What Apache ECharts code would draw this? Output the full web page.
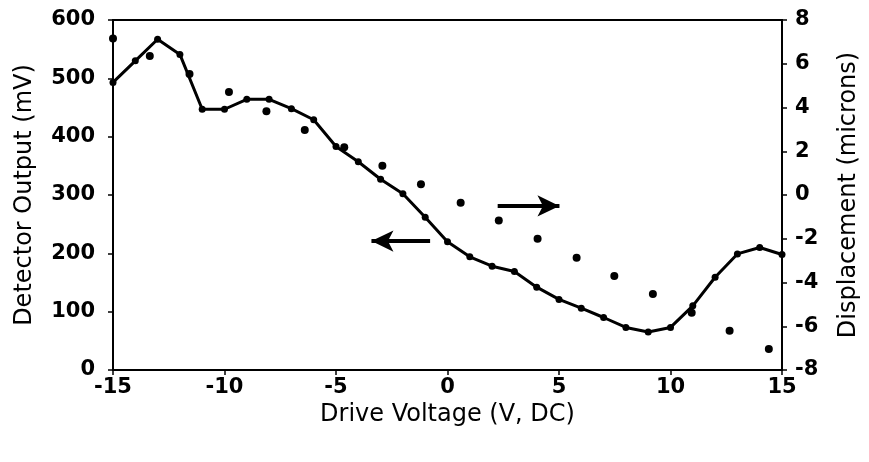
<!DOCTYPE html>
<html>
<head>
<meta charset="utf-8">
<script src="https://cdn.jsdelivr.net/npm/echarts@6/dist/echarts.min.js"></script>
<style>
html,body{margin:0;padding:0;background:#fff;}
#chart{width:869px;height:462px;}
</style>
</head>
<body>
<div id="chart"></div>
<script>
// Detector output (left axis), sampled every 1 V
var voltsLine = [-15,-14,-13,-12,-11,-10,-9,-8,-7,-6,-5,-4,-3,-2,-1,0,1,2,3,4,5,6,7,8,9,10,11,12,13,14,15];
var detectorOutput = [493,530,567,541,447,447,464,464,448,429,383,357,327,302,262,220,194,178,169,142,121,106,90,73,65,73,110,159,199,210,198];

// Displacement (right axis)
var voltsDisp = [-15,-13.35,-11.57,-9.8,-8.12,-6.4,-4.63,-2.92,-1.19,0.59,2.3,4.04,5.79,7.48,9.21,10.95,12.65,14.41];
var displacement = [7.16,6.35,5.53,4.71,3.83,2.97,2.18,1.34,0.49,-0.35,-1.17,-2.0,-2.87,-3.70,-4.53,-5.38,-6.20,-7.04];

// Annotation arrows (data coordinates): [x tail, x tip, y]
var arrowLeft = [-0.78, -3.41, 221];     // on detector axis
var arrowRight = [2.25, 5.02, -0.5];     // on displacement axis

var xTitle = 'Drive Voltage (V, DC)';
var yLeftTitle = 'Detector Output (mV)';
var yRightTitle = 'Displacement (microns)';

var lineData = voltsLine.map(function(v,i){return [v, detectorOutput[i]];});
var dispData = voltsDisp.map(function(v,i){return [v, displacement[i]];});

var FONT = 'DejaVu Sans';
var tickLabel = {color:'#000', fontFamily:FONT, fontSize:21, fontWeight:'bold'};
var nameStyle = {color:'#000', fontFamily:FONT, fontSize:24};
var axisLine = {show:true, onZero:false, lineStyle:{color:'#000', width:2}};
var axisTick = {show:true, inside:false, length:5, lineStyle:{color:'#000', width:1.5}};

var chart = echarts.init(document.getElementById('chart'), null, {renderer:'canvas'});
chart.setOption({
  backgroundColor:'#fff',
  animation:false,
  grid:{left:113, right:83, top:20, bottom:92, show:true, borderColor:'#000', borderWidth:2, backgroundColor:'transparent'},
  xAxis:{
    type:'value', min:-15, max:15, interval:5,
    axisLine:axisLine, axisTick:axisTick,
    axisLabel:Object.assign({margin:7}, tickLabel),
    splitLine:{show:false},
    name:xTitle, nameLocation:'middle', nameGap:32, nameTextStyle:nameStyle
  },
  yAxis:[{
    type:'value', min:0, max:600, interval:100, position:'left',
    axisLine:axisLine, axisTick:axisTick,
    axisLabel:Object.assign({margin:18}, tickLabel),
    splitLine:{show:false},
    name:yLeftTitle, nameLocation:'middle', nameGap:76, nameRotate:90, nameTextStyle:nameStyle
  },{
    type:'value', min:-8, max:8, interval:2, position:'right',
    axisLine:axisLine, axisTick:axisTick,
    axisLabel:Object.assign({margin:13}, tickLabel),
    splitLine:{show:false},
    name:yRightTitle, nameLocation:'middle', nameGap:55, nameRotate:90, nameTextStyle:nameStyle
  }],
  series:[{
    type:'line', name:'Detector Output', yAxisIndex:0,
    data:lineData,
    symbol:'circle', symbolSize:7, showSymbol:true,
    lineStyle:{color:'#000', width:3},
    itemStyle:{color:'#000', opacity:1},
    markLine:{
      silent:true, symbol:['none','arrow'], symbolSize:[16,22],
      label:{show:false},
      lineStyle:{color:'#000', width:4, type:'solid'},
      data:[[{coord:[arrowLeft[0], arrowLeft[2]]},{coord:[arrowLeft[1], arrowLeft[2]]}]]
    }
  },{
    type:'scatter', name:'Displacement', yAxisIndex:1,
    data:dispData,
    symbol:'circle', symbolSize:8,
    itemStyle:{color:'#000', opacity:1},
    markLine:{
      silent:true, symbol:['none','arrow'], symbolSize:[16,22],
      label:{show:false},
      lineStyle:{color:'#000', width:4, type:'solid'},
      data:[[{coord:[arrowRight[0], arrowRight[2]]},{coord:[arrowRight[1], arrowRight[2]]}]]
    }
  }]
});
</script>
</body>
</html>
